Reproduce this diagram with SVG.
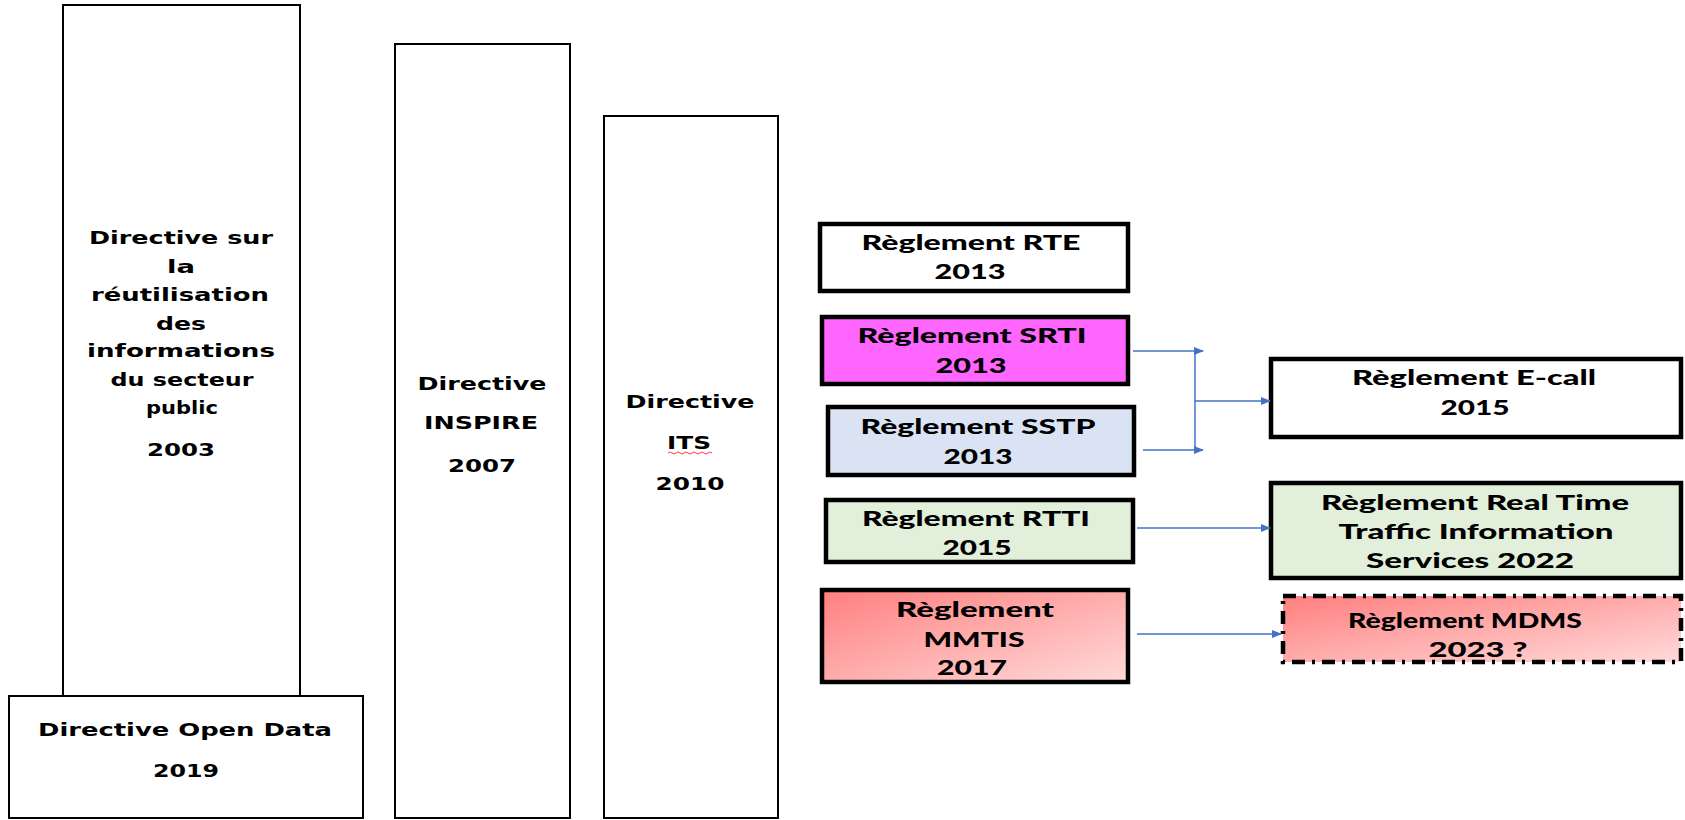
<svg xmlns="http://www.w3.org/2000/svg" width="1685" height="820" viewBox="0 0 1685 820">
<style>
.thin{fill:#fff;stroke:#000;stroke-width:2}
.thick{stroke:#000;stroke-width:4.5}
.lt{font-family:"DejaVu Sans",sans-serif;font-weight:bold;font-size:17px;fill:#000;text-anchor:middle}
.rt{font-family:Lato,"Open Sans",sans-serif;font-weight:900;font-size:20px;fill:#000;text-anchor:middle}
.con{stroke:#4472C4;stroke-width:1.5;fill:none}
</style>
<defs>
<marker id="ah" markerWidth="10" markerHeight="8" refX="9" refY="4" orient="auto" markerUnits="userSpaceOnUse">
<path d="M0,0 L10,4 L0,8 z" fill="#4472C4"/>
</marker>
<linearGradient id="red" x1="0" y1="0" x2="1" y2="1">
<stop offset="0" stop-color="#FF7F7F"/>
<stop offset="1" stop-color="#FFDADA"/>
</linearGradient>
</defs>
<rect width="1685" height="820" fill="#fff"/>

<g id="psi">
<rect class="thin" x="63" y="5" width="237" height="691"/>
<text class="lt" x="181" y="244" textLength="184" lengthAdjust="spacingAndGlyphs">Directive sur</text>
<text class="lt" x="181" y="273" textLength="28" lengthAdjust="spacingAndGlyphs">la</text>
<text class="lt" x="180" y="301" textLength="178" lengthAdjust="spacingAndGlyphs">réutilisation</text>
<text class="lt" x="181" y="330" textLength="50" lengthAdjust="spacingAndGlyphs">des</text>
<text class="lt" x="181" y="357" textLength="188" lengthAdjust="spacingAndGlyphs">informations</text>
<text class="lt" x="182" y="386" textLength="143" lengthAdjust="spacingAndGlyphs">du secteur</text>
<text class="lt" x="182" y="414" textLength="72" lengthAdjust="spacingAndGlyphs" style="font-size:18px">public</text>
<text class="lt" x="181" y="456" textLength="68" lengthAdjust="spacingAndGlyphs">2003</text>
</g>

<g id="opendata">
<rect class="thin" x="9" y="696" width="354" height="122"/>
<text class="lt" x="185" y="736" textLength="294" lengthAdjust="spacingAndGlyphs">Directive Open Data</text>
<text class="lt" x="186" y="777" textLength="66" lengthAdjust="spacingAndGlyphs">2019</text>
</g>

<g id="inspire">
<rect class="thin" x="395" y="44" width="175" height="774"/>
<text class="lt" x="482" y="390" textLength="129" lengthAdjust="spacingAndGlyphs">Directive</text>
<text class="lt" x="481" y="429" textLength="114" lengthAdjust="spacingAndGlyphs">INSPIRE</text>
<text class="lt" x="482" y="472" textLength="68" lengthAdjust="spacingAndGlyphs">2007</text>
</g>

<g id="its">
<rect class="thin" x="604" y="116" width="174" height="702"/>
<text class="lt" x="690" y="408" textLength="129" lengthAdjust="spacingAndGlyphs">Directive</text>
<text class="lt" x="689" y="449" textLength="44" lengthAdjust="spacingAndGlyphs">ITS</text>
<path d="M668,453 q2,-2 4,0 t4,0 t4,0 t4,0 t4,0 t4,0 t4,0 t4,0 t4,0 t4,0 t4,0" fill="none" stroke="#FF3B3B" stroke-width="1"/>
<text class="lt" x="690" y="490" textLength="69" lengthAdjust="spacingAndGlyphs">2010</text>
</g>

<g id="rte">
<rect class="thick" fill="#fff" x="820" y="224" width="308" height="67"/>
<text class="rt" x="971" y="250" textLength="219" lengthAdjust="spacingAndGlyphs">Règlement RTE</text>
<text class="rt" x="970" y="279" textLength="71" lengthAdjust="spacingAndGlyphs">2013</text>
</g>

<g id="srti">
<rect class="thick" fill="#FF66FF" x="822" y="317" width="306" height="67"/>
<text class="rt" x="972" y="343" textLength="229" lengthAdjust="spacingAndGlyphs">Règlement SRTI</text>
<text class="rt" x="971" y="373" textLength="71" lengthAdjust="spacingAndGlyphs">2013</text>
</g>

<g id="sstp">
<rect class="thick" fill="#DAE3F3" x="828" y="407" width="306" height="68"/>
<text class="rt" x="978" y="434" textLength="235" lengthAdjust="spacingAndGlyphs">Règlement SSTP</text>
<text class="rt" x="978" y="464" textLength="69" lengthAdjust="spacingAndGlyphs">2013</text>
</g>

<g id="rtti">
<rect class="thick" fill="#E2EFDA" x="826" y="500" width="307" height="62"/>
<text class="rt" x="976" y="526" textLength="228" lengthAdjust="spacingAndGlyphs">Règlement RTTI</text>
<text class="rt" x="977" y="555" textLength="69" lengthAdjust="spacingAndGlyphs">2015</text>
</g>

<g id="mmtis">
<rect class="thick" fill="url(#red)" x="822" y="590" width="306" height="92"/>
<text class="rt" x="975" y="617" textLength="158" lengthAdjust="spacingAndGlyphs">Règlement</text>
<text class="rt" x="974" y="647" textLength="101" lengthAdjust="spacingAndGlyphs">MMTIS</text>
<text class="rt" x="972" y="675" textLength="70" lengthAdjust="spacingAndGlyphs">2017</text>
</g>

<g id="ecall">
<rect class="thick" fill="#fff" x="1271" y="359" width="410" height="78"/>
<text class="rt" x="1474" y="385" textLength="244" lengthAdjust="spacingAndGlyphs">Règlement E-call</text>
<text class="rt" x="1475" y="415" textLength="69" lengthAdjust="spacingAndGlyphs">2015</text>
</g>

<g id="rtti2022">
<rect class="thick" fill="#E2EFDA" x="1271" y="483" width="410" height="95"/>
<text class="rt" x="1475" y="510" textLength="308" lengthAdjust="spacingAndGlyphs">Règlement Real Time</text>
<text class="rt" x="1476" y="539" textLength="275" lengthAdjust="spacingAndGlyphs">Traffic Information</text>
<text class="rt" x="1470" y="568" textLength="208" lengthAdjust="spacingAndGlyphs">Services 2022</text>
</g>

<g id="mdms">
<rect fill="url(#red)" stroke="#000" stroke-width="4.5" stroke-dasharray="13,7,3,7" x="1283" y="596" width="398" height="66"/>
<text class="rt" x="1465" y="628" textLength="234" lengthAdjust="spacingAndGlyphs">Règlement MDMS</text>
<text class="rt" x="1478" y="657" textLength="99" lengthAdjust="spacingAndGlyphs">2023 ?</text>
</g>

<g id="connectors">
<path class="con" d="M1133,351 H1203" marker-end="url(#ah)"/>
<path class="con" d="M1143,450 H1203" marker-end="url(#ah)"/>
<path class="con" d="M1195,351 V450"/>
<path class="con" d="M1195,401 H1270" marker-end="url(#ah)"/>
<path class="con" d="M1137,528 H1270" marker-end="url(#ah)"/>
<path class="con" d="M1137,634 H1281" marker-end="url(#ah)"/>
</g>
</svg>
